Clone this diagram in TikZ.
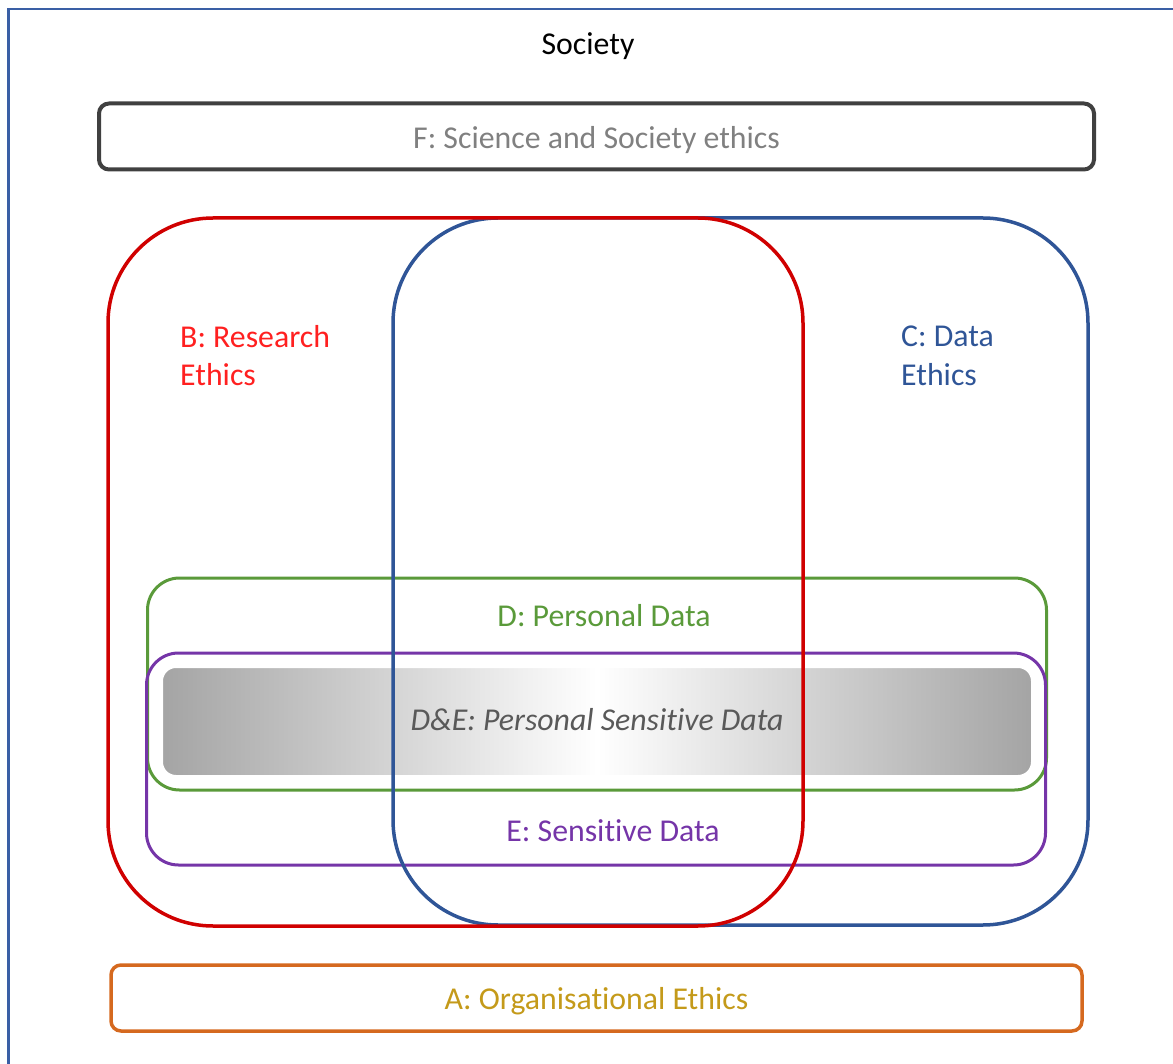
\documentclass[tikz,border=0pt]{standalone}
\usepackage{fontspec}
\setmainfont{Carlito}[Ligatures={NoCommon}]
\definecolor{frameblue}{HTML}{3A5FA5}
\definecolor{fborder}{HTML}{404040}
\definecolor{ftext}{HTML}{808080}
\definecolor{bred}{HTML}{D00000}
\definecolor{btext}{HTML}{FF2020}
\definecolor{cblue}{HTML}{2F5597}
\definecolor{dgreen}{HTML}{5A9A3A}
\definecolor{epurple}{HTML}{7535A8}
\definecolor{aorange}{HTML}{D5691F}
\definecolor{atext}{HTML}{C49A1A}
\definecolor{detext}{HTML}{595959}
\definecolor{bandgrey}{HTML}{A4A4A4}
\newcommand{\labelfont}{\fontsize{31.8}{38.8}\selectfont}
\tikzset{
	setbox/.style={
		rectangle,
		draw, line width=3pt,
		inner sep=0pt},
	bigset/.style={
		setbox,
		line width=3.5pt,
		minimum width=695pt,
		rounded corners=105pt},
	layerbox/.style={
		setbox,
		line width=4pt,
		minimum width=995pt,
		minimum height=66pt,
		rounded corners=10pt},
	databox/.style={
		setbox,
		minimum width=899pt,
		minimum height=212pt,
		rounded corners=32pt},
	band/.style={
		rectangle,
		draw=white, line width=4pt,
		left color=bandgrey, right color=bandgrey, middle color=white,
		minimum width=872pt, minimum height=111pt,
		rounded corners=15pt},
	setlabel/.style={inner sep=0pt, font=\labelfont},
}

\begin{document}
\begin{tikzpicture}[x=1pt, y=-1pt]
	\useasboundingbox (0,0) rectangle (1173,1064);
	\draw[frameblue, line width=2.2pt] (8.5,1064) -- (8.5,9) -- (1173,9);
	\node[setlabel] (society) at (588,46) {Society};

	% layers outside the sets
	\node[layerbox, draw=fborder, minimum width=995pt] (fbox) at (596.5,136.5) {};
	\node[setlabel, text=ftext] (flabel) at (596.5,140) {F: Science and Society ethics};
	\node[layerbox, draw=aorange, line width=3.5pt, minimum width=971pt] (abox) at (596.5,998) {};
	\node[setlabel, text=atext] (alabel) at (596.5,1001) {A: Organisational Ethics};

	% data sets
	\node[databox, draw=dgreen] (dbox) at (597,684) {};
	\node[databox, draw=epurple] (ebox) at (596,759) {};
	\node[band] (debox) at (597,721.5) {};
	\node[setlabel, text=detext, font=\labelfont\itshape] (delabel) at (597,720) {D\&E: Personal Sensitive Data};
	\node[setlabel, text=dgreen] (dlabel) at (604,616) {D: Personal Data};
	\node[setlabel, text=epurple] (elabel) at (613,831) {E: Sensitive Data};

	% research and data ethics
	\node[bigset, draw=cblue, minimum height=707pt] (cbox) at (740.5,571.5) {};
	\node[bigset, draw=bred, minimum height=708pt] (bbox) at (455.5,572) {};
	\node[setlabel, text=btext, align=left, anchor=west] (blabel) at (180,355.5) {B: Research\\Ethics};
	\node[setlabel, text=cblue, align=left, anchor=west] (clabel) at (901,355.5) {C: Data\\Ethics};
\end{tikzpicture}
\end{document}
